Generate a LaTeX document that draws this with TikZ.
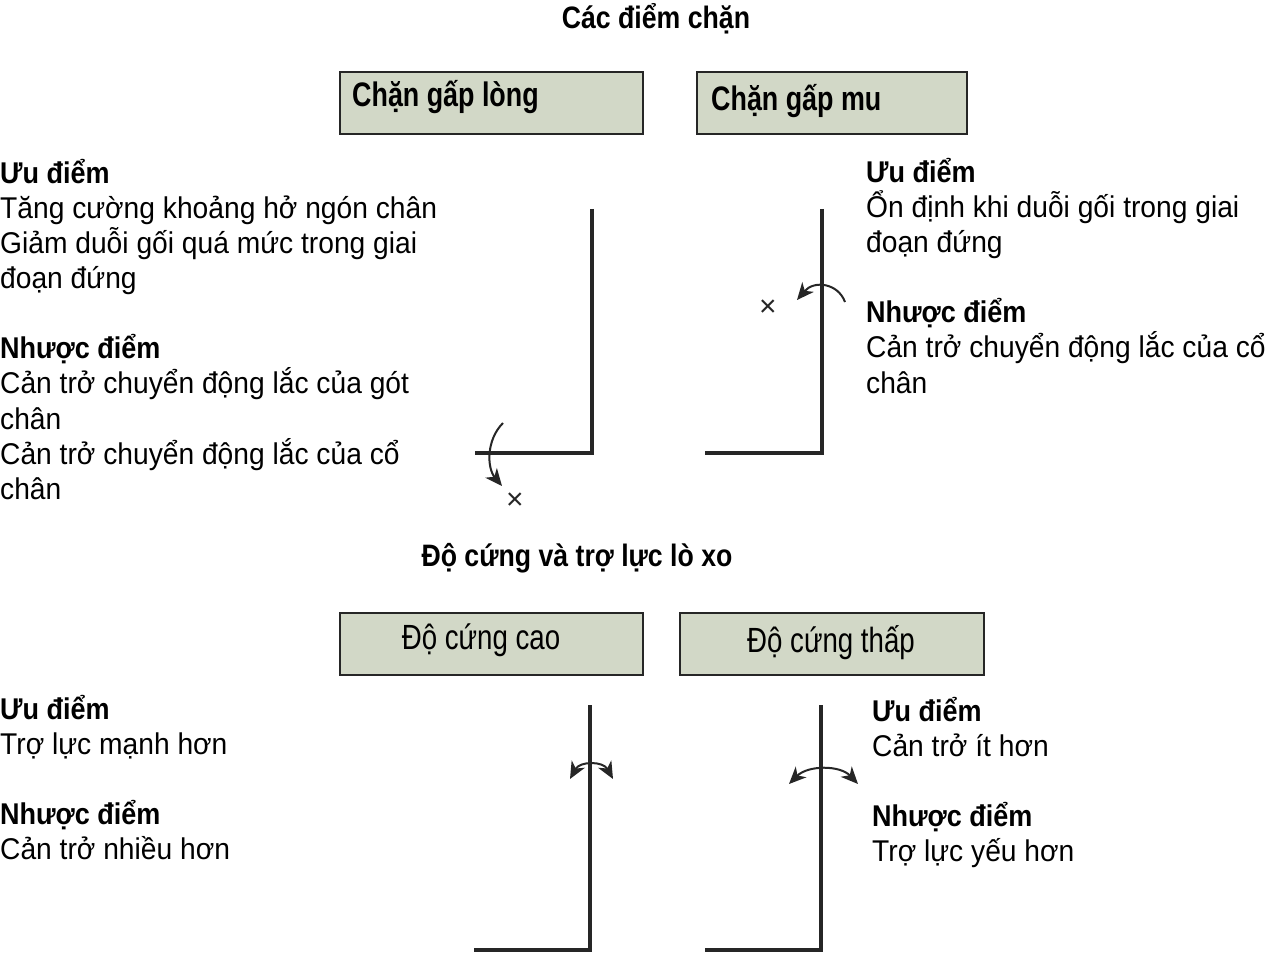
\documentclass[tikz,border=0pt]{standalone}
\usepackage{fontspec}
\setmainfont{Liberation Sans}
\newfontfamily\bodyfont[FakeStretch=0.94]{Liberation Sans}
\newfontfamily\headfont[FakeStretch=0.90]{Liberation Sans}
\newfontfamily\condfont[FakeStretch=0.86]{Liberation Sans}
\newfontfamily\tabfont[FakeStretch=0.79]{Liberation Sans}
\usetikzlibrary{arrows.meta}
\definecolor{boxfill}{RGB}{210,216,199}
\definecolor{ink}{RGB}{38,38,38}
\tikzset{
  body/.style={anchor=base west, inner sep=0pt, font=\bodyfont\fontsize{30}{35}\selectfont, text=black},
  head/.style={anchor=base west, inner sep=0pt, font=\headfont\fontsize{30}{35}\selectfont\bfseries, text=black},
  ttl/.style={anchor=base, inner sep=0pt, font=\condfont\fontsize{31}{36}\selectfont\bfseries, text=black},
  tab/.style={draw=ink, line width=1.6pt, fill=boxfill, anchor=north west, inner sep=0pt},
  tabbold/.style={inner sep=0pt, font=\tabfont\fontsize{34}{38}\selectfont\bfseries, text=black},
  tabreg/.style={inner sep=0pt, font=\tabfont\fontsize{35}{40}\selectfont, text=black},
  stopline/.style={line width=4pt, draw=ink},
  tip/.tip={Stealth[length=17pt,width=15pt,inset=5pt]},
  swing/.style={line width=2pt, draw=ink, -tip},
  swing2/.style={line width=2pt, draw=ink, tip-tip},
  cross/.style={inner sep=0pt, font=\fontsize{30}{32}\selectfont, text=ink},
}
\begin{document}
\begin{tikzpicture}[x=1pt,y=-1pt]
\useasboundingbox (0,0) rectangle (1283,968);
\fill[white] (0,0) rectangle (1283,968);

% ---------- section 1 ----------
\node[ttl] (t1) at (656,29) {Các điểm chặn};

\node[tab, minimum width=303pt, minimum height=62pt] (b1) at (339,71) {};
\node[tabbold, anchor=base west] (b1t) at (352,107) {Chặn gấp lòng};
\node[tab, minimum width=270pt, minimum height=62pt] (b2) at (696,71) {};
\node[tabbold, anchor=base west] (b2t) at (711,111) {Chặn gấp mu};

\node[head] (l1) at (0,184) {Ưu điểm};
\node[body] (l2) at (0,219) {Tăng cường khoảng hở ngón chân};
\node[body] (l3) at (0,254) {Giảm duỗi gối quá mức trong giai};
\node[body] (l4) at (0,289) {đoạn đứng};
\node[head] (l5) at (0,359) {Nhược điểm};
\node[body] (l6) at (0,394) {Cản trở chuyển động lắc của gót};
\node[body] (l7) at (0,429) {chân};
\node[body] (l8) at (0,464) {Cản trở chuyển động lắc của cổ};
\node[body] (l9) at (0,499) {chân};

\node[head] (r1) at (866,183) {Ưu điểm};
\node[body] (r2) at (866,218) {Ổn định khi duỗi gối trong giai};
\node[body] (r3) at (866,253) {đoạn đứng};
\node[head] (r4) at (866,323) {Nhược điểm};
\node[body] (r5) at (866,358) {Cản trở chuyển động lắc của cổ};
\node[body] (r6) at (866,393) {chân};

% left L (plantar stop)
\coordinate (A1) at (592,209);
\coordinate (A2) at (592,453);
\coordinate (A3) at (475,453);
\draw[stopline] (A1) -- (A2) -- (A3);
\coordinate (a1s) at (503,423);
\coordinate (a1e) at (502,486);
\draw[swing] (a1s) .. controls (486,440) and (487,468) .. (a1e);
\node[cross] (x1) at (515,501) {×};

% right L (dorsal stop)
\coordinate (B1) at (822,209);
\coordinate (B2) at (822,453);
\coordinate (B3) at (705,453);
\draw[stopline] (B1) -- (B2) -- (B3);
\coordinate (a2s) at (845,302);
\coordinate (a2e) at (797,300);
\draw[swing] (a2s) .. controls (838,283) and (814,280) .. (a2e);
\node[cross] (x2) at (768,308) {×};

% ---------- section 2 ----------
\node[ttl] (t2) at (577,566) {Độ cứng và trợ lực lò xo};

\node[tab, minimum width=303pt, minimum height=62pt] (b3) at (339,612) {};
\node[tabreg] (b3t) at (481,640) {Độ cứng cao};
\node[tab, minimum width=304pt, minimum height=62pt] (b4) at (679,612) {};
\node[tabreg] (b4t) at (831,643) {Độ cứng thấp};

\node[head] (m1) at (0,719) {Ưu điểm};
\node[body] (m2) at (0,754) {Trợ lực mạnh hơn};
\node[head] (m3) at (0,824) {Nhược điểm};
\node[body] (m4) at (0,859) {Cản trở nhiều hơn};

\node[head] (n1) at (872,721) {Ưu điểm};
\node[body] (n2) at (872,756) {Cản trở ít hơn};
\node[head] (n3) at (872,826) {Nhược điểm};
\node[body] (n4) at (872,861) {Trợ lực yếu hơn};

\coordinate (C1) at (590,705);
\coordinate (C2) at (590,950);
\coordinate (C3) at (474,950);
\draw[stopline] (C1) -- (C2) -- (C3);
\coordinate (c1s) at (570,779);
\coordinate (c1e) at (613,779);
\draw[swing2] (c1s) .. controls (580,761) and (603,761) .. (c1e);

\coordinate (D1) at (821,705);
\coordinate (D2) at (821,950);
\coordinate (D3) at (705,950);
\draw[stopline] (D1) -- (D2) -- (D3);
\coordinate (d1s) at (789,784);
\coordinate (d1e) at (858,784);
\draw[swing2] (d1s) .. controls (808,765) and (840,765) .. (d1e);
\end{tikzpicture}
\end{document}
